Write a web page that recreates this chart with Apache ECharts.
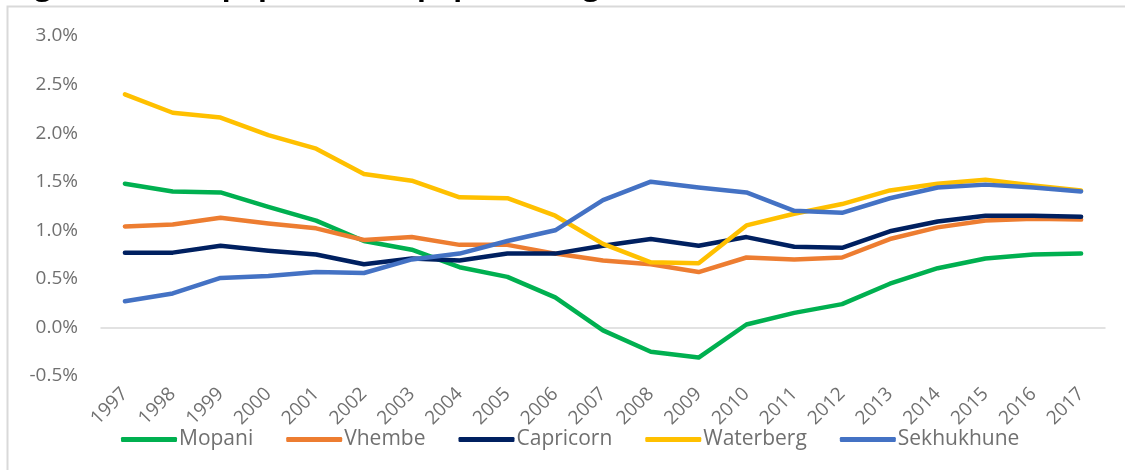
<!DOCTYPE html>
<html>
<head>
<meta charset="utf-8">
<script src="https://cdn.jsdelivr.net/npm/echarts@6/dist/echarts.min.js"></script>
<style>
  html, body { margin: 0; padding: 0; background: #fff; }
  #chart { width: 1125px; height: 470px; }
</style>
</head>
<body>
<div id="chart"></div>
<script>
// Population growth rate (%) by district
const years = ['1997', '1998', '1999', '2000', '2001', '2002', '2003', '2004', '2005', '2006', '2007',
    '2008', '2009', '2010', '2011', '2012', '2013', '2014', '2015', '2016', '2017'];
const mopani = [1.48, 1.40, 1.39, 1.24, 1.10, 0.89, 0.80, 0.62, 0.52, 0.31, -0.03,
    -0.25, -0.31, 0.03, 0.15, 0.24, 0.45, 0.61, 0.71, 0.75, 0.76];
const vhembe = [1.04, 1.06, 1.13, 1.07, 1.02, 0.90, 0.93, 0.85, 0.85, 0.76, 0.69,
    0.65, 0.57, 0.72, 0.70, 0.72, 0.91, 1.03, 1.10, 1.12, 1.11];
const capricorn = [0.77, 0.77, 0.84, 0.79, 0.75, 0.65, 0.71, 0.69, 0.76, 0.76, 0.84,
    0.91, 0.84, 0.93, 0.83, 0.82, 0.99, 1.09, 1.15, 1.15, 1.14];
const waterberg = [2.40, 2.21, 2.16, 1.98, 1.84, 1.58, 1.51, 1.34, 1.33, 1.15, 0.86,
    0.67, 0.66, 1.05, 1.17, 1.27, 1.41, 1.48, 1.52, 1.46, 1.41];
const sekhukhune = [0.27, 0.35, 0.51, 0.53, 0.57, 0.56, 0.70, 0.76, 0.89, 1.00, 1.31,
    1.50, 1.44, 1.39, 1.20, 1.18, 1.33, 1.44, 1.47, 1.44, 1.40];

const FONT = '"Open Sans", "Noto Sans", sans-serif';
const LABEL_COLOR = '#707070';

let chart = echarts.init(document.getElementById('chart'));

function makeSeries(name, data, color) {
    return {
        name: name,
        type: 'line',
        data: data,
        symbol: 'none',
        lineStyle: { color: color, width: 4.5, cap: 'round', join: 'round' },
        itemStyle: { color: color },
        emphasis: { disabled: true }
    };
}

chart.setOption({
    animation: false,
    graphic: [
        {
            // caption of the figure, mostly cut off at the top of the picture
            type: 'text',
            left: 10,
            top: -28,
            style: {
                text: 'Figure 3: Total population & population growth',
                font: 'bold 29px ' + FONT,
                fill: '#000'
            }
        },
        {
            type: 'rect',
            shape: { x: 7.5, y: 6.5, width: 1140, height: 480 },
            style: { fill: 'none', stroke: '#d9d9d9', lineWidth: 2 }
        }
    ],
    grid: {
        left: 101,
        right: 20,
        top: 36,
        bottom: 94
    },
    legend: {
        left: 116,
        top: 424,
        icon: 'roundRect',
        itemWidth: 56,
        itemHeight: 5,
        itemGap: 33,
        textStyle: { color: LABEL_COLOR, fontSize: 21, fontFamily: FONT, padding: [0, 0, 0, -3] },
        data: ['Mopani', 'Vhembe', 'Capricorn', 'Waterberg', 'Sekhukhune']
    },
    xAxis: {
        type: 'category',
        boundaryGap: true,
        data: years,
        axisLine: { onZero: true, lineStyle: { color: '#d9d9d9', width: 1.5 } },
        axisTick: { show: false },
        axisLabel: {
            rotate: 45,
            margin: 15,
            color: LABEL_COLOR,
            fontSize: 19,
            fontFamily: FONT,
            interval: 0
        }
    },
    yAxis: {
        type: 'value',
        min: -0.5,
        max: 3,
        interval: 0.5,
        axisLine: { show: false },
        axisTick: { show: false },
        splitLine: { show: false },
        axisLabel: {
            margin: 23,
            color: LABEL_COLOR,
            fontSize: 19,
            fontFamily: FONT,
            formatter: function (v) { return v.toFixed(1) + '%'; }
        }
    },
    series: [
        makeSeries('Mopani', mopani, '#00B050'),
        makeSeries('Vhembe', vhembe, '#ED7D31'),
        makeSeries('Capricorn', capricorn, '#002060'),
        makeSeries('Waterberg', waterberg, '#FFC000'),
        makeSeries('Sekhukhune', sekhukhune, '#4472C4')
    ]
});

window.addEventListener('resize', function () {
    chart.resize();
});
</script>
</body>
</html>
